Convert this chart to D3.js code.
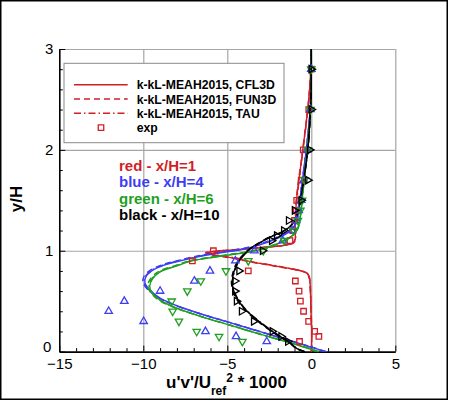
<!DOCTYPE html>
<html><head><meta charset="utf-8">
<script src="https://cdn.jsdelivr.net/npm/d3@7"></script>
<style>body{margin:0;background:#fff}svg{display:block}text{font-family:"Liberation Sans",Arial,Helvetica,sans-serif}</style>
</head><body><svg id="c" width="450" height="401"></svg>
<script>
// ---- data ----
const xTicks=[-15,-10,-5,0,5];
const yTicks=[0,1,2,3];
const xMinor=[-14,-13,-12,-11,-9,-8,-7,-6,-4,-3,-2,-1,1,2,3,4];
const yMinor=[0.2,0.4,0.6,0.8,1.2,1.4,1.6,1.8,2.2,2.4,2.6,2.8];
const legendLabels=["k-kL-MEAH2015, CFL3D","k-kL-MEAH2015, FUN3D","k-kL-MEAH2015, TAU","exp"];
const noteLabels=["red - x/H=1","blue - x/H=4","green - x/H=6","black - x/H=10"];

const expY=[2.8,2.4,2.0,1.7,1.5,1.4,1.3,1.2,1.1,1.0,0.9,0.8,0.7,0.6,0.5,0.4,0.3,0.2,0.15,0.1];
const redExpX=[0.0,-0.15,-0.48,-0.6,-0.87,-0.9,-1.0,-1.1,-1.27,-5.83,-7.08,-3.75,-0.95,-0.73,-0.65,-0.46,-0.16,0.2,0.45,-0.7];
const blueExpX=[0.0,-0.05,-0.25,-0.45,-0.6,-0.75,-0.9,-1.15,-1.7,-3.39,-4.52,-6.03,-6.96,-9.0,-11.13,-12.06,-9.98,-6.3,-4.48,-2.65];
const greenExpX=[0.0,-0.05,-0.2,-0.4,-0.55,-0.65,-0.8,-1.05,-1.6,-2.86,-3.75,-5.08,-6.58,-7.38,-8.31,-8.25,-7.88,-6.82,-5.49,-4.1];
const blackExpY=[2.8,2.4,2.0,1.7,1.5,1.4,1.3,1.2,1.15,1.1,1.0,0.8,0.7,0.6,0.5,0.4,0.3,0.2,0.15,0.1];
const blackExpX=[0.0,0.0,-0.1,-0.2,-0.6,-1.0,-1.35,-1.64,-2.06,-2.36,-2.9,-4.3,-4.55,-4.55,-4.45,-4.15,-3.43,-2.32,-1.8,-1.4];

const redCFL3D=[[0.0,0],[0.02,0.2],[-0.02,0.4],[-0.05,0.6],[-0.1,0.72],[-0.2,0.77],[-0.6,0.8],[-1.5,0.83],[-2.5,0.86],[-3.4,0.885],[-4.4,0.92],[-5.3,0.945],[-6.0,0.965],[-6.2,0.98],[-5.6,0.995],[-4.5,1.01],[-3.4,1.025],[-2.3,1.04],[-1.5,1.055],[-1.05,1.08],[-0.95,1.12],[-0.98,1.2],[-0.95,1.3],[-0.88,1.5],[-0.74,1.7],[-0.58,1.9],[-0.43,2.1],[-0.28,2.3],[-0.15,2.5],[-0.06,2.7],[-0.02,2.9],[0,3.0]];
const redFUN3D=[[0.0,0],[0.03,0.2],[-0.01,0.4],[-0.04,0.6],[-0.09,0.72],[-0.22,0.775],[-0.65,0.8],[-1.6,0.83],[-2.6,0.86],[-3.5,0.885],[-4.5,0.92],[-5.4,0.945],[-6.1,0.965],[-6.3,0.98],[-5.7,0.995],[-4.6,1.01],[-3.5,1.025],[-2.4,1.04],[-1.55,1.055],[-1.08,1.08],[-0.97,1.12],[-1.0,1.2],[-0.97,1.3],[-0.9,1.5],[-0.76,1.7],[-0.59,1.9],[-0.44,2.1],[-0.29,2.3],[-0.16,2.5],[-0.07,2.7],[-0.02,2.9],[0,3.0]];
const redTAU=[[0.01,0],[0.02,0.2],[-0.02,0.4],[-0.06,0.6],[-0.12,0.72],[-0.25,0.78],[-0.7,0.805],[-1.6,0.835],[-2.6,0.865],[-3.5,0.89],[-4.4,0.925],[-5.3,0.95],[-5.95,0.968],[-6.1,0.983],[-5.5,0.998],[-4.4,1.013],[-3.3,1.028],[-2.2,1.043],[-1.45,1.058],[-1.02,1.085],[-0.93,1.125],[-0.96,1.2],[-0.93,1.3],[-0.86,1.5],[-0.72,1.7],[-0.57,1.9],[-0.42,2.1],[-0.27,2.3],[-0.14,2.5],[-0.05,2.7],[-0.01,2.9],[0,3.0]];

const blueCFL3D=[[0.85,0],[-1.0,0.095],[-3.0,0.195],[-5.0,0.295],[-6.6,0.375],[-8.0,0.455],[-9.0,0.53],[-9.6,0.61],[-9.9,0.68],[-9.85,0.74],[-9.5,0.8],[-8.8,0.855],[-7.8,0.9],[-6.6,0.945],[-5.4,0.98],[-4.2,1.01],[-3.2,1.05],[-2.2,1.11],[-1.4,1.18],[-1.0,1.24],[-0.82,1.32],[-0.68,1.5],[-0.53,1.7],[-0.37,1.9],[-0.23,2.1],[-0.11,2.3],[-0.04,2.5],[-0.01,2.7],[0,3.0]];
const blueFUN3D=[[0.9,0],[-1.0,0.097],[-3.0,0.197],[-5.0,0.297],[-6.65,0.378],[-8.1,0.458],[-9.1,0.533],[-9.72,0.612],[-10.02,0.682],[-9.97,0.742],[-9.62,0.803],[-8.92,0.858],[-7.92,0.904],[-6.72,0.95],[-5.5,0.985],[-4.3,1.015],[-3.3,1.055],[-2.3,1.115],[-1.45,1.185],[-1.03,1.245],[-0.84,1.32],[-0.69,1.5],[-0.54,1.7],[-0.38,1.9],[-0.24,2.1],[-0.12,2.3],[-0.04,2.5],[-0.01,2.7],[0,3.0]];
const blueTAU=[[0.82,0],[-1.0,0.094],[-3.0,0.194],[-5.0,0.294],[-6.6,0.374],[-8.0,0.454],[-9.05,0.531],[-9.65,0.61],[-9.95,0.681],[-9.9,0.741],[-9.55,0.801],[-8.85,0.856],[-7.85,0.902],[-6.65,0.947],[-5.45,0.982],[-4.25,1.012],[-3.25,1.052],[-2.25,1.112],[-1.42,1.182],[-1.01,1.242],[-0.83,1.32],[-0.68,1.5],[-0.53,1.7],[-0.37,1.9],[-0.23,2.1],[-0.11,2.3],[-0.04,2.5],[-0.01,2.7],[0,3.0]];

const greenCFL3D=[[0.4,0],[-1.0,0.075],[-3.0,0.17],[-5.0,0.27],[-6.6,0.35],[-8.0,0.43],[-9.0,0.51],[-9.5,0.59],[-9.62,0.65],[-9.45,0.72],[-9.0,0.79],[-8.0,0.85],[-7.1,0.9],[-6.0,0.93],[-4.8,0.96],[-3.6,0.99],[-2.6,1.03],[-1.7,1.09],[-1.1,1.15],[-0.8,1.22],[-0.64,1.35],[-0.55,1.5],[-0.42,1.7],[-0.3,1.9],[-0.18,2.1],[-0.08,2.3],[-0.02,2.5],[0,2.7],[0,3.0]];
const greenFUN3D=[[0.45,0],[-1.0,0.077],[-3.0,0.172],[-5.0,0.272],[-6.65,0.353],[-8.1,0.433],[-9.1,0.513],[-9.6,0.592],[-9.74,0.652],[-9.57,0.723],[-9.1,0.793],[-8.1,0.853],[-7.2,0.903],[-6.1,0.933],[-4.9,0.963],[-3.7,0.993],[-2.7,1.033],[-1.75,1.093],[-1.12,1.153],[-0.81,1.222],[-0.65,1.35],[-0.56,1.5],[-0.43,1.7],[-0.31,1.9],[-0.19,2.1],[-0.09,2.3],[-0.02,2.5],[0,2.7],[0,3.0]];
const greenTAU=[[0.38,0],[-1.0,0.074],[-3.0,0.169],[-5.0,0.269],[-6.6,0.349],[-8.0,0.429],[-9.02,0.509],[-9.52,0.589],[-9.66,0.651],[-9.5,0.721],[-9.03,0.791],[-8.05,0.851],[-7.15,0.901],[-6.05,0.931],[-4.85,0.961],[-3.65,0.991],[-2.65,1.031],[-1.72,1.091],[-1.11,1.151],[-0.8,1.221],[-0.64,1.35],[-0.55,1.5],[-0.42,1.7],[-0.3,1.9],[-0.18,2.1],[-0.08,2.3],[-0.02,2.5],[0,2.7],[0,3.0]];

const blackCFL3D=[[-0.4,0],[-0.85,0.03],[-1.37,0.1],[-2.06,0.17],[-3.05,0.29],[-4.05,0.44],[-4.55,0.57],[-4.7,0.67],[-4.65,0.76],[-4.45,0.86],[-4.12,0.94],[-3.7,1.01],[-3.15,1.07],[-2.46,1.135],[-1.7,1.19],[-1.2,1.25],[-0.9,1.33],[-0.7,1.45],[-0.5,1.65],[-0.32,1.85],[-0.18,2.05],[-0.08,2.3],[-0.02,2.5],[0,2.7],[0,3.0]];
const blackFUN3D=[[-0.42,0],[-0.87,0.03],[-1.4,0.1],[-2.1,0.17],[-3.1,0.29],[-4.1,0.44],[-4.6,0.57],[-4.75,0.67],[-4.7,0.76],[-4.5,0.86],[-4.17,0.94],[-3.75,1.01],[-3.2,1.07],[-2.5,1.135],[-1.72,1.19],[-1.22,1.25],[-0.91,1.33],[-0.71,1.45],[-0.51,1.65],[-0.33,1.85],[-0.19,2.05],[-0.09,2.3],[-0.02,2.5],[0,2.7],[0,3.0]];
const blackTAU=[[-0.38,0],[-0.84,0.03],[-1.35,0.1],[-2.03,0.17],[-3.02,0.29],[-4.02,0.44],[-4.52,0.57],[-4.67,0.67],[-4.62,0.76],[-4.42,0.86],[-4.1,0.94],[-3.68,1.01],[-3.13,1.07],[-2.44,1.135],[-1.69,1.19],[-1.19,1.25],[-0.89,1.33],[-0.69,1.45],[-0.49,1.65],[-0.31,1.85],[-0.17,2.05],[-0.07,2.3],[-0.02,2.5],[0,2.7],[0,3.0]];

// ---- styles ----
const RED="#d21f26", BLUE="#3d3df2", GREEN="#1f9f1f", BLACK="#000";
const dashFUN="6,4", dashTAU="7,3,1.5,3";

const svg=d3.select("#c");
const x=d3.scaleLinear().domain([-15,5]).range([59.3,395.3]);
const y=d3.scaleLinear().domain([0,3]).range([351.6,49]);
const pw=x(5)-x(-15), ph=y(0)-y(3);

// outer border
svg.append("rect").attr("x",0.75).attr("y",0.75).attr("width",446.5).attr("height",398.5)
  .attr("fill","none").attr("stroke","#000").attr("stroke-width",1.5);

// grid
const gx=svg.append("g").attr("transform",`translate(0,${y(0)})`)
  .call(d3.axisBottom(x).tickValues([-10,-5,0,5]).tickSize(-ph).tickFormat(""));
const gy=svg.append("g").attr("transform",`translate(${x(-15)},0)`)
  .call(d3.axisLeft(y).tickValues([1,2,3]).tickSize(-pw).tickFormat(""));
[gx,gy].forEach(g=>{g.select(".domain").remove();g.selectAll("line").attr("stroke","#a6a6a6").attr("stroke-width",1.2);});

// axes
const ax=svg.append("g").attr("transform",`translate(0,${y(0)})`)
  .call(d3.axisBottom(x).tickValues(xTicks).tickSize(-6).tickSizeOuter(0).tickPadding(6.5));
const axm=svg.append("g").attr("transform",`translate(0,${y(0)})`)
  .call(d3.axisBottom(x).tickValues(xMinor).tickSize(-3.5).tickFormat(""));
const ay=svg.append("g").attr("transform",`translate(${x(-15)},0)`)
  .call(d3.axisLeft(y).tickValues(yTicks).tickSize(-6).tickSizeOuter(0).tickPadding(6).tickFormat(d3.format("d")));
const aym=svg.append("g").attr("transform",`translate(${x(-15)},0)`)
  .call(d3.axisLeft(y).tickValues(yMinor).tickSize(-3.5).tickFormat(""));
[axm,aym].forEach(g=>g.select(".domain").remove());
[ax,ay,axm,aym].forEach(g=>{g.selectAll(".tick line").attr("stroke","#000").attr("stroke-width",1);
  g.selectAll("text").attr("font-size",15).attr("fill","#000").style("font-family",'"Liberation Sans",Arial,sans-serif');});
ay.selectAll(".tick text").filter(d=>d===0).attr("dy","-0.02em").attr("x",-8);
[ax,ay].forEach(g=>g.select(".domain").attr("stroke","#000").attr("stroke-width",1.6));

// axis titles
svg.append("text").attr("transform","translate(22,199) rotate(-90)").attr("text-anchor","middle")
  .attr("font-size",17).attr("font-weight","bold").text("y/H");
const xt=svg.append("text").attr("x",166).attr("y",387.5).attr("font-size",17).attr("font-weight","bold");
xt.append("tspan").text("u'v'/U");
xt.append("tspan").attr("dy",7.5).attr("font-size",12).text("ref");
xt.append("tspan").attr("dy",-13.5).attr("font-size",12).text("2");
xt.append("tspan").attr("dy",6).text(" * 1000");

// curves
const line=d3.line().x(d=>x(d[0])).y(d=>y(d[1])).curve(d3.curveCatmullRom.alpha(0.5));
const plot=svg.append("g");
const series=[
  [redCFL3D,RED,null],[redFUN3D,RED,dashFUN],[redTAU,RED,dashTAU],
  [blueCFL3D,BLUE,null],[blueFUN3D,BLUE,dashFUN],[blueTAU,BLUE,dashTAU],
  [greenCFL3D,GREEN,null],[greenFUN3D,GREEN,dashFUN],[greenTAU,GREEN,dashTAU],
  [blackCFL3D,BLACK,null],[blackFUN3D,BLACK,dashFUN],[blackTAU,BLACK,dashTAU]];
series.forEach(([data,col,dash])=>{
  plot.append("path").attr("d",line(data)).attr("fill","none").attr("stroke",col)
    .attr("stroke-width",1.4).attr("stroke-dasharray",dash);
});

// markers
function markers(xs,ys,col,type,rot,size){
  plot.append("g").selectAll("path").data(xs.map((v,i)=>[v,ys[i]])).join("path")
    .attr("d",d3.symbol().type(type).size(size))
    .attr("transform",d=>`translate(${x(d[0])},${y(d[1])}) rotate(${rot})`)
    .attr("fill","none").attr("stroke",col).attr("stroke-width",1.3);
}
markers(redExpX,expY,RED,d3.symbolSquare,0,30);
markers(blueExpX,expY,BLUE,d3.symbolTriangle,0,24);
markers(greenExpX,expY,GREEN,d3.symbolTriangle,180,24);
markers(blackExpX,blackExpY,BLACK,d3.symbolTriangle,90,24);

// legend
const lg=svg.append("g");
lg.append("rect").attr("x",64).attr("y",63.3).attr("width",220).attr("height",79.4)
  .attr("fill","#fff").attr("stroke","#8a8a8a").attr("stroke-width",1);
const rowsY=[84.7,99,113.3,127.7];
const dashes=[null,dashFUN,dashTAU];
legendLabels.forEach((lab,i)=>{
  if(i<3){
    lg.append("line").attr("x1",74).attr("x2",127.7).attr("y1",rowsY[i]).attr("y2",rowsY[i])
      .attr("stroke",RED).attr("stroke-width",1.5).attr("stroke-dasharray",dashes[i]);
  } else {
    lg.append("path").attr("d",d3.symbol().type(d3.symbolSquare).size(30))
      .attr("transform",`translate(101,${rowsY[i]})`).attr("fill","none").attr("stroke",RED).attr("stroke-width",1.3);
  }
  lg.append("text").attr("x",136.7).attr("y",rowsY[i]+4.5).attr("font-size",12.2).attr("font-weight","bold").text(lab);
});

// annotations
const noteCols=[RED,BLUE,GREEN,BLACK];
const noteY=[170.5,187,203.5,220];
noteLabels.forEach((t,i)=>{
  svg.append("text").attr("x",119).attr("y",noteY[i]).attr("font-size",15).attr("font-weight","bold")
    .attr("fill",noteCols[i]).text(t);
});
</script></body></html>
